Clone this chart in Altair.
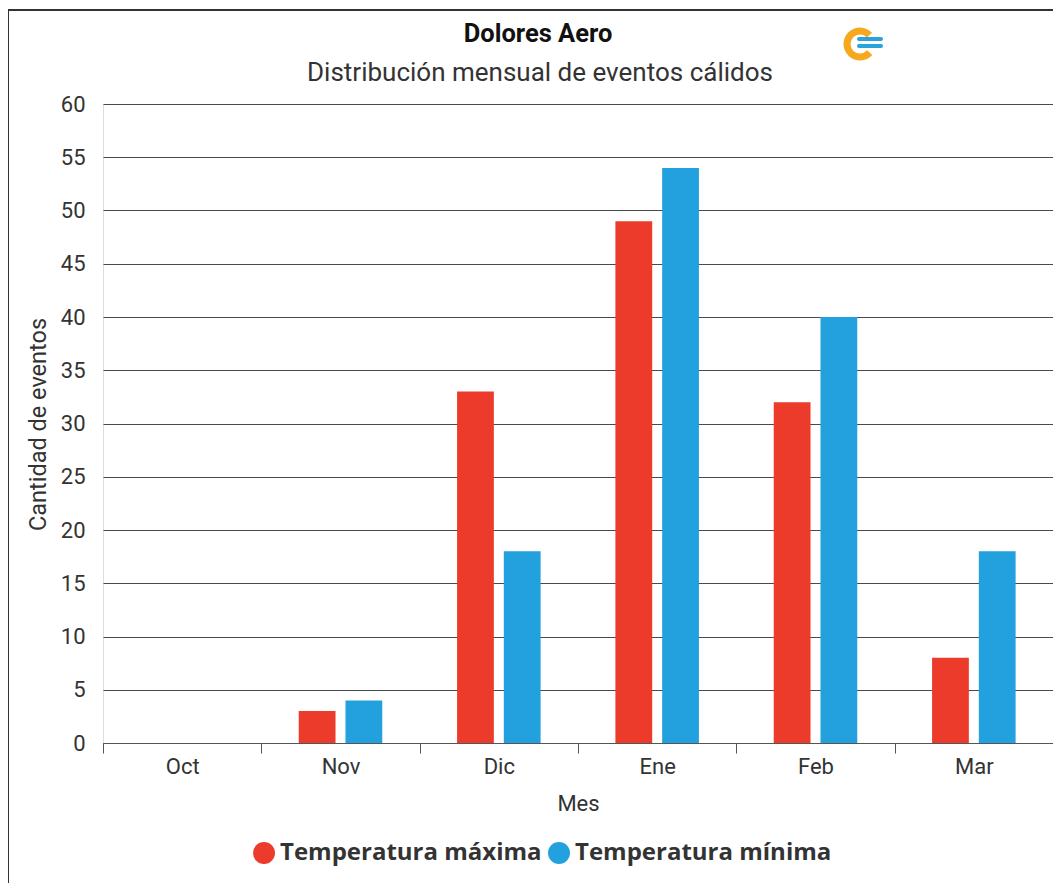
import altair as alt
import pandas as pd

titulo = "Dolores Aero"
subtitulo = "Distribución mensual de eventos cálidos"
meses = ["Oct", "Nov", "Dic", "Ene", "Feb", "Mar"]
series = ["Temperatura máxima", "Temperatura mínima"]
temp_max = [0, 3, 33, 49, 32, 8]
temp_min = [0, 4, 18, 54, 40, 18]
colores = ["#ec3b2b", "#22a1de"]
y_ticks = list(range(0, 65, 5))

rows = []
for m, a, b in zip(meses, temp_max, temp_min):
    rows.append({"Mes": m, "Serie": series[0], "Cantidad": a})
    rows.append({"Mes": m, "Serie": series[1], "Cantidad": b})
df = pd.DataFrame(rows)

W, H = 950, 639
FONT = "Roboto"

bars = alt.Chart(df).mark_bar().encode(
    x=alt.X("Mes:N", sort=meses,
            scale=alt.Scale(paddingInner=0, paddingOuter=0),
            axis=alt.Axis(title="Mes", tickBand="extent", labelAngle=0,
                          labelFont=FONT, labelFontSize=22, labelColor="#333",
                          labelBaseline="alphabetic", labelPadding=20,
                          tickSize=10, tickColor="#555", domainColor="#555",
                          titleFont=FONT, titleFontSize=22, titleFontWeight="normal",
                          titleColor="#333", titleBaseline="alphabetic", titleY=67,
                          grid=False)),
    xOffset=alt.XOffset("Serie:N", sort=series,
                        scale=alt.Scale(paddingInner=0.213, paddingOuter=0.8)),
    y=alt.Y("Cantidad:Q", scale=alt.Scale(domain=[0, 60], nice=False),
            axis=alt.Axis(title="Cantidad de eventos", values=y_ticks,
                          domain=False, ticks=False, grid=True,
                          gridColor="#4a4a4a", gridWidth=1,
                          labelFont=FONT, labelFontSize=22, labelColor="#333",
                          labelPadding=18,
                          titleFont=FONT, titleFontSize=23.5, titleFontWeight="normal",
                          titleColor="#333", titleBaseline="alphabetic",
                          titleX=-58, titleY=320)),
    color=alt.Color("Serie:N",
                    scale=alt.Scale(domain=series, range=colores),
                    legend=alt.Legend(title=None, orient="none", direction="horizontal",
                                      legendX=149, legendY=737,
                                      symbolType="circle", symbolSize=484,
                                      symbolStrokeWidth=0, labelOffset=4,
                                      columnPadding=5, labelLimit=400,
                                      labelFont="Open Sans", labelFontWeight="bold",
                                      labelFontSize=24, labelColor="#333")),
)

one = pd.DataFrame({"k": [0]})

title_mark = alt.Chart(one).mark_text(
    text=titulo, font=FONT, fontSize=25.5, fontWeight="bold", color="#111",
    align="center", baseline="alphabetic").encode(x=alt.value(435), y=alt.value(-62))
subtitle_mark = alt.Chart(one).mark_text(
    text=subtitulo, font=FONT, fontSize=26, color="#333",
    align="center", baseline="alphabetic").encode(x=alt.value(437), y=alt.value(-23))

border_left = alt.Chart(one).mark_rule(color="#333", strokeWidth=2).encode(
    x=alt.value(-95), y=alt.value(-94), y2=alt.value(H + 150))
border_top = alt.Chart(one).mark_rule(color="#333", strokeWidth=2).encode(
    x=alt.value(-96), x2=alt.value(W + 20), y=alt.value(-94))

logo_ring = alt.Chart(one).mark_arc(theta=2.3, theta2=7.1, radius=16.5, radius2=9.5,
                                    color="#f6a81f").encode(
    x=alt.value(757), y=alt.value(-60))
logo_w1 = alt.Chart(one).mark_rule(color="#2aa3dc", strokeWidth=4, strokeCap="round").encode(
    x=alt.value(756), x2=alt.value(778), y=alt.value(-65))
logo_w2 = alt.Chart(one).mark_rule(color="#2aa3dc", strokeWidth=4, strokeCap="round").encode(
    x=alt.value(756), x2=alt.value(778), y=alt.value(-58))

chart = alt.layer(bars, title_mark, subtitle_mark, border_left, border_top,
                  logo_ring, logo_w1, logo_w2).properties(
    width=W, height=H,
    autosize=alt.AutoSizeParams(type="none"),
    padding={"left": 95, "top": 96, "right": 0, "bottom": 140},
).configure_view(stroke=None).configure(background="white")

chart.save("out.html", embed_options={"renderer": "svg", "actions": False})
